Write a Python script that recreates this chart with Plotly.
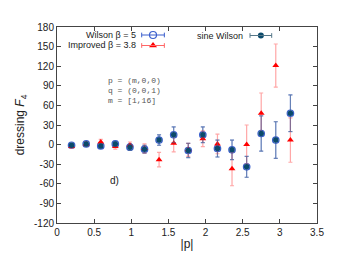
import plotly.graph_objects as go

# |p| values for m = 1..16
p_abs = [0.196, 0.393, 0.589, 0.785, 0.982, 1.178, 1.374, 1.571,
         1.767, 1.963, 2.160, 2.356, 2.553, 2.749, 2.945, 3.142]

wilson_vals = [-1, 1, -2, 1, -4, -7, 7, 15, -9, 15, -6, -8, -34, 17, 7, 48]
wilson_err = [3, 3, 3, 4, 5, 6, 8, 12, 11, 12, 13, 15, 16, 27, 28, 28]

improved_vals = [-3, 1, 4, -3, -1, -6, -23, 2, -8, 9, 1, -37, 0, 48, 121, 7]
improved_err = [3, 3, 4, 4, 5, 7, 11, 13, 10, 12, 15, 26, 30, 31, 33, 34]

sine_vals = wilson_vals
sine_err = wilson_err

x_ticks = [0, 0.5, 1, 1.5, 2, 2.5, 3, 3.5]
y_ticks = [-120, -90, -60, -30, 0, 30, 60, 90, 120, 150, 180]

BLUE = "#3a5fcd"
RED = "#ff0000"
DARK = "#0b4a6b"

fig = go.Figure()
fig.add_trace(go.Scatter(
    x=p_abs, y=wilson_vals, mode="markers", name="Wilson β = 5",
    marker=dict(symbol="circle-open", size=6.5, color=BLUE, line=dict(width=1.2, color=BLUE)),
    error_y=dict(type="data", array=wilson_err, color="rgba(58,95,205,0.6)",
                 thickness=1.2, width=2)))
fig.add_trace(go.Scatter(
    x=p_abs, y=improved_vals, mode="markers", name="Improved β = 3.8",
    marker=dict(symbol="triangle-up", size=6, color=RED),
    error_y=dict(type="data", array=improved_err, color="rgba(255,80,80,0.5)",
                 thickness=1.2, width=2)))
fig.add_trace(go.Scatter(
    x=p_abs, y=sine_vals, mode="markers", name="sine Wilson",
    marker=dict(symbol="circle", size=5.5, color=DARK),
    error_y=dict(type="data", array=sine_err, color="rgba(70,100,140,0.55)",
                 thickness=1.0, width=2)))

# plot area on screen: x 53..317, y 27..223 (page body has an 8px margin)
def px(x):
    return (x - 53) / 264.0

def py(y):
    return (223 - y) / 196.0

def key_entry(text, y, x_text_end, x0, x1, lcolor):
    fig.add_annotation(x=x_text_end, y=y, xref="paper", yref="paper", text=text,
                       showarrow=False, xanchor="right", yanchor="middle",
                       font=dict(family="Liberation Sans, Arial", size=9, color="#222"))
    fig.add_shape(type="line", xref="paper", yref="paper", x0=x0, x1=x1, y0=y, y1=y,
                  line=dict(color=lcolor, width=1))
    for xx in (x0, x1):
        fig.add_shape(type="line", xref="paper", yref="paper", x0=xx, x1=xx,
                      y0=y - 0.012, y1=y + 0.012, line=dict(color=lcolor, width=1))

key_entry("Wilson β = 5", py(35), px(135), px(139), px(162), BLUE)
key_entry("Improved β = 3.8", py(45.5), px(135), px(139), px(162), "#ff6666")
key_entry("sine Wilson", py(35.5), px(244), px(249), px(271), "#557788")

fig.add_trace(go.Scatter(
    x=[px(150.5)], y=[py(35)], xaxis="x2", yaxis="y2", mode="markers",
    showlegend=False, hoverinfo="skip",
    marker=dict(symbol="circle-open", size=7, color=BLUE, line=dict(width=1.2, color=BLUE))))
fig.add_trace(go.Scatter(
    x=[px(150.5)], y=[py(45.5)], xaxis="x2", yaxis="y2", mode="markers",
    showlegend=False, hoverinfo="skip",
    marker=dict(symbol="triangle-up", size=7, color=RED)))
fig.add_trace(go.Scatter(
    x=[px(260)], y=[py(35.5)], xaxis="x2", yaxis="y2", mode="markers",
    showlegend=False, hoverinfo="skip",
    marker=dict(symbol="circle", size=6, color=DARK)))

mono = dict(family="Liberation Mono, DejaVu Sans Mono, monospace", size=8, color="#555")
for txt, yy in [("p = (m,0,0)", 80.5), ("q = (0,0,1)", 90.5), ("m = [1,16]", 100.5)]:
    fig.add_annotation(x=px(103), y=py(yy), xref="paper", yref="paper", text=txt,
                       showarrow=False, xanchor="left", yanchor="middle", font=mono)

fig.add_annotation(x=0.69, y=-55, xref="x", yref="y", text="d)", showarrow=False,
                   xanchor="left", yanchor="middle",
                   font=dict(family="Liberation Sans, Arial", size=10, color="#222"))

fig.update_layout(
    width=360, height=254,
    margin=dict(l=45, r=51, t=19, b=39),
    paper_bgcolor="white", plot_bgcolor="white",
    showlegend=False,
    font=dict(family="Liberation Sans, Arial", size=10, color="#222"),
    xaxis=dict(range=[0, 3.5], tickvals=x_ticks, ticktext=[str(v) for v in x_ticks],
               ticks="inside", ticklen=4, tickcolor="#444", showline=True, linecolor="#444",
               linewidth=1, mirror="ticks", showgrid=False, zeroline=False,
               title=dict(text="|p|", font=dict(size=12), standoff=2)),
    yaxis=dict(range=[-120, 180], tickvals=y_ticks, ticktext=[str(v) for v in y_ticks],
               ticks="inside", ticklen=4, tickcolor="#444", showline=True, linecolor="#444",
               linewidth=1, mirror="ticks", showgrid=False, zeroline=False,
               title=dict(text="dressing <i>F</i><sub>4</sub>", font=dict(size=12), standoff=6)),
    xaxis2=dict(range=[0, 1], overlaying="x", visible=False, fixedrange=True),
    yaxis2=dict(range=[0, 1], overlaying="y", visible=False, fixedrange=True),
)

fig.write_html("out.html")
